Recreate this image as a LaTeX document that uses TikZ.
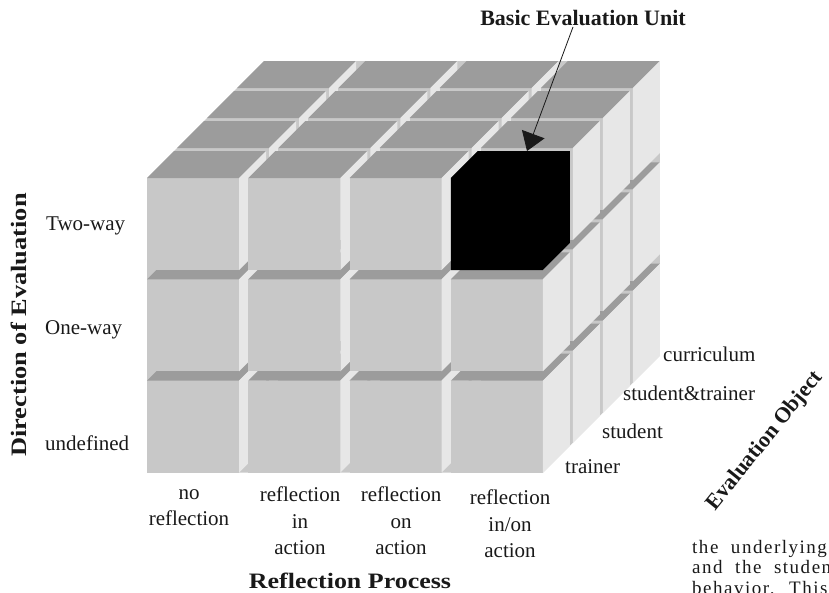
\documentclass[tikz,border=0pt]{standalone}
\usepackage{fontspec}
\setmainfont{Liberation Serif}
\usetikzlibrary{positioning, calc, arrows.meta}

\definecolor{cubefront}{gray}{0.785}
\definecolor{cubetop}{gray}{0.61}
\definecolor{cubeside}{gray}{0.905}
\definecolor{ink}{gray}{0.1}

\begin{document}
\begin{tikzpicture}[x=1pt, y=-1pt,
    lab/.style={font=\fontsize{21}{26.5}\selectfont, text=ink, inner sep=0pt},
    collab/.style={lab, align=center, anchor=north},
    axislab/.style={font=\fontsize{22}{26}\selectfont\bfseries, text=ink, inner sep=0pt},
    bodytext/.style={font=\fontsize{19}{20}\selectfont, text=ink, inner sep=0pt, anchor=base west}]
                \useasboundingbox (0,0) rectangle (829,592);
                \clip (0,0) rectangle (829,592);
                % outline of the whole block, shows through the gaps
                \fill[cubefront] (147,472.6) -- (147,178) -- (264,61) -- (659.9,61) -- (659.9,355.6) -- (542.9,472.6) -- cycle;
                % cubes, back layer first, bottom row first
                \foreach \k in {3,2,1,0}
                \foreach \j in {2,1,0}
                \foreach \i in {0,1,2,3} {
                    \pgfmathsetmacro{\X}{147+\i*101.3+\k*30}
                    \pgfmathsetmacro{\Y}{178+\j*101.3-\k*30}
                    \fill[cubefront] (\X,\Y) rectangle ++(92,92);
                    \fill[cubetop] (\X,\Y) -- ++(92,0) -- ++(27,-27) -- ++(-92,0) -- cycle;
                    \fill[cubeside] (\X+92,\Y) -- ++(0,92) -- ++(27,-27) -- ++(0,-92) -- cycle;
                }
                % the basic evaluation unit
                \fill[black] (450.9,178) -- (477.9,151) -- (569.9,151) -- (569.9,243) -- (542.9,270) -- (450.9,270) -- cycle;

                \node[lab, anchor=west] (twoway) at (46,226) {Two-way};
                \node[lab, anchor=west] (oneway) at (45,330) {One-way};
                \node[lab, anchor=west] (undef) at (45,443) {undefined};

                \node[lab, anchor=west] (curr) at (663,354) {curriculum};
                \node[lab, anchor=west] (studtr) at (623,393) {student\&trainer};
                \node[lab, anchor=west] (stud) at (602,431) {student};
                \node[lab, anchor=west] (train) at (565,467) {trainer};

                \node[collab] (norefl) at (189,489) {no\\reflection};
                \node[collab] (inact) at (300,487) {reflection\\in\\action};
                \node[collab] (onact) at (401,487) {reflection\\on\\action};
                \node[collab] (inonact) at (510,490) {reflection\\in/on\\action};

                \node[axislab] (process) at (350,581) {\scalebox{1.18}[1]{Reflection Process}};
                \node[axislab, rotate=90] (direction) at (19,325) {\scalebox{1.2}[1]{Direction of Evaluation}};
                \node[axislab, rotate=51] (object) at (765,441) {Evaluation Object};
                \node[axislab] (unit) at (583,18) {Basic Evaluation Unit};

                \coordinate (unitfoot) at (573,27);
                \coordinate (unithit) at (527,151);
                \draw[ink, line width=0.8pt, -{Triangle[width=24pt,length=18pt]}] (unitfoot) -- (unithit);

                \node[bodytext] (line1) at (692,553) {\addfontfeature{LetterSpace=8}the \ underlying};
                \node[bodytext] (line2) at (692,573) {\addfontfeature{LetterSpace=8}and \ the \ students};
                \node[bodytext] (line3) at (692,594) {\addfontfeature{LetterSpace=8}behavior. \ This};
            \end{tikzpicture}
\end{document}
